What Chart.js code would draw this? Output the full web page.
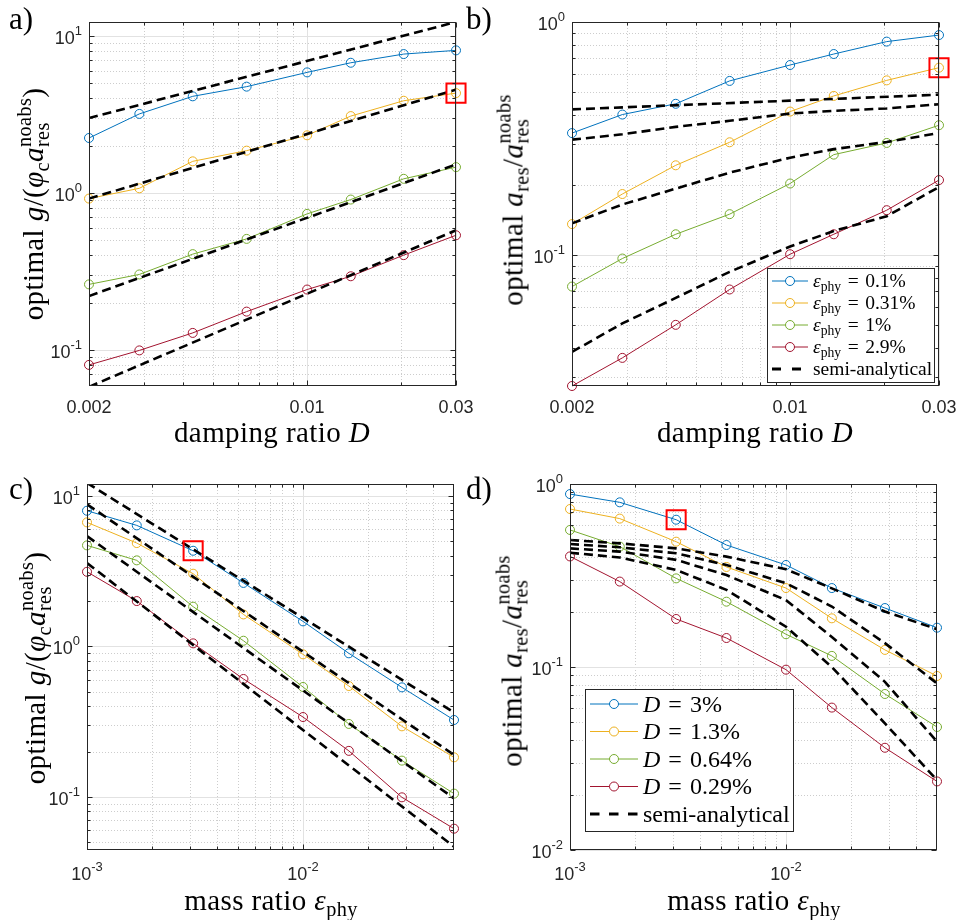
<!DOCTYPE html>
<html>
<head>
<meta charset="utf-8">
<script src="https://cdn.jsdelivr.net/npm/chart.js@4.4.0/dist/chart.umd.min.js"></script>
<style>
  body { margin: 0; background: #fff; }
  #fig { position: relative; width: 960px; height: 920px; overflow: hidden; }
  #fig canvas { position: absolute; }
  .tx { position: absolute; font-family: "Liberation Serif", serif; font-size: 29px; letter-spacing: 0.4px; line-height: 1; color: #000; white-space: nowrap; }
  .hor { transform: translate(-50%, -50%); }
  .rot { transform: translate(-50%, -50%) rotate(-90deg); }
  .tag { font-size: 31px; letter-spacing: 0; }
  .sub { font-size: 70%; position: relative; top: 0.32em; }
  .stk { display: inline-block; position: relative; font-size: 70%; }
  .stk .sp { position: relative; top: -0.6em; }
  .stk .sb { position: absolute; left: 0; top: 0.32em; }
  i { font-style: italic; }
</style>
</head>
<body>
<div id="fig">
  <canvas id="chartA" width="480" height="460" style="left:0;top:0"></canvas>
  <canvas id="chartB" width="480" height="460" style="left:480px;top:0"></canvas>
  <canvas id="chartC" width="480" height="460" style="left:0;top:460px"></canvas>
  <canvas id="chartD" width="480" height="460" style="left:480px;top:460px"></canvas>

  <div class="tx tag" style="left:9px;top:3px">a)</div>
  <div class="tx tag" style="left:466px;top:3px">b)</div>
  <div class="tx tag" style="left:9px;top:473px">c)</div>
  <div class="tx tag" style="left:466px;top:473px">d)</div>

  <div class="tx rot" style="left:33px;top:204px">optimal <i>g</i>/(<i>φ</i><span class="sub">c</span><i>a</i><span class="stk"><span class="sp">noabs</span><span class="sb">res</span></span>)</div>
  <div class="tx rot" style="left:513px;top:200px">optimal <i>a</i><span class="sub">res</span>/<i>a</i><span class="stk"><span class="sp">noabs</span><span class="sb">res</span></span></div>
  <div class="tx rot" style="left:35px;top:668px">optimal <i>g</i>/(<i>φ</i><span class="sub">c</span><i>a</i><span class="stk"><span class="sp">noabs</span><span class="sb">res</span></span>)</div>
  <div class="tx rot" style="left:512px;top:661px">optimal <i>a</i><span class="sub">res</span>/<i>a</i><span class="stk"><span class="sp">noabs</span><span class="sb">res</span></span></div>

  <div class="tx hor" style="left:272px;top:432px">damping ratio <i>D</i></div>
  <div class="tx hor" style="left:755px;top:432px">damping ratio <i>D</i></div>
  <div class="tx hor" style="left:271px;top:900px">mass ratio <i>ε</i><span class="sub">phy</span></div>
  <div class="tx hor" style="left:754px;top:900px">mass ratio <i>ε</i><span class="sub">phy</span></div>
</div>

<script>
// sample positions
const dampingRatio = [0.002, 0.0029, 0.0043, 0.0064, 0.01, 0.0138, 0.0204, 0.03];
const massRatio = [0.001, 0.0017, 0.0031, 0.0053, 0.01, 0.0163, 0.0287, 0.05];
const dampEnds = [0.002, 0.03];
const dampThree = [0.002, 0.01, 0.03];
const massEnds = [0.001, 0.05];

const epsLabels = ['0.1%', '0.31%', '1%', '2.9%'];
const dampLabels = ['3%', '1.3%', '0.64%', '0.29%'];

// a) optimal gain over damping ratio, one curve per mass ratio
const gainD_e01 = [2.24, 3.19, 4.13, 4.76, 5.87, 6.76, 7.68, 8.11];
const gainD_e031 = [0.92, 1.07, 1.59, 1.86, 2.33, 3.09, 3.87, 4.33];
const gainD_e1 = [0.261, 0.302, 0.407, 0.509, 0.735, 0.907, 1.23, 1.46];
const gainD_e29 = [0.080, 0.099, 0.128, 0.175, 0.242, 0.294, 0.401, 0.537];
const semiGainD_e01 = [3.0, 12.3];
const semiGainD_e031 = [0.92, 4.55];
const semiGainD_e1 = [0.22, 1.52];
const semiGainD_e29 = [0.058, 0.578];

// b) optimal amplitude ratio over damping ratio
const ampD_e01 = [0.334, 0.401, 0.446, 0.559, 0.654, 0.729, 0.824, 0.879];
const ampD_e031 = [0.136, 0.183, 0.243, 0.305, 0.413, 0.482, 0.562, 0.637];
const ampD_e1 = [0.0734, 0.0968, 0.123, 0.150, 0.203, 0.270, 0.303, 0.361];
const ampD_e29 = [0.0275, 0.0363, 0.0503, 0.0713, 0.101, 0.123, 0.156, 0.210];
const semiAmpD_e01 = [0.422, 0.46, 0.488];
const semiAmpD_e031 = [0.313, 0.330, 0.355, 0.377, 0.405, 0.416, 0.426, 0.444];
const semiAmpD_e1 = [0.137, 0.165, 0.193, 0.226, 0.262, 0.285, 0.306, 0.334];
const semiAmpD_e29 = [0.0385, 0.051, 0.0656, 0.0849, 0.109, 0.127, 0.147, 0.196];

// c) optimal gain over mass ratio, one curve per damping ratio
const gainE_D3 = [7.97, 6.37, 4.32, 2.64, 1.466, 0.899, 0.534, 0.324];
const gainE_D13 = [6.67, 4.86, 3.04, 1.63, 0.885, 0.545, 0.294, 0.183];
const gainE_D064 = [4.69, 3.73, 1.835, 1.09, 0.537, 0.305, 0.174, 0.105];
const gainE_D029 = [3.13, 2.0, 1.047, 0.607, 0.339, 0.202, 0.0992, 0.0614];
const semiGainE_D3 = [12.2, 0.364];
const semiGainE_D13 = [8.8, 0.19];
const semiGainE_D064 = [5.4, 0.0977];
const semiGainE_D029 = [3.58, 0.0466];

// d) optimal amplitude ratio over mass ratio
const ampE_D3 = [0.881, 0.794, 0.638, 0.464, 0.361, 0.270, 0.210, 0.164];
const ampE_D13 = [0.730, 0.647, 0.484, 0.352, 0.270, 0.1845, 0.124, 0.0893];
const ampE_D064 = [0.561, 0.455, 0.305, 0.2275, 0.151, 0.115, 0.0712, 0.047];
const ampE_D029 = [0.402, 0.293, 0.183, 0.144, 0.0967, 0.060, 0.0362, 0.0237];
const semiAmpE_D3 = [0.494, 0.474, 0.445, 0.401, 0.342, 0.269, 0.201, 0.161];
const semiAmpE_D13 = [0.470, 0.451, 0.418, 0.361, 0.287, 0.214, 0.135, 0.0814];
const semiAmpE_D064 = [0.445, 0.427, 0.385, 0.318, 0.232, 0.146, 0.083, 0.0391];
const semiAmpE_D029 = [0.421, 0.397, 0.339, 0.264, 0.166, 0.100, 0.0492, 0.0241];

// ticks
const dampTicks = [0.002, 0.01, 0.03];
const dampTickLabels = ['0.002', '0.01', '0.03'];
const massTicks = [0.001, 0.01];
const massTickLabels = ['10^-3', '10^-2'];
const gainTicks = [0.1, 1, 10];
const gainTickLabels = ['10^-1', '10^0', '10^1'];
const ampTicksB = [0.1, 1];
const ampTickLabelsB = ['10^-1', '10^0'];
const ampTicksD = [0.01, 0.1, 1];
const ampTickLabelsD = ['10^-2', '10^-1', '10^0'];

const colors = ['#0072BD', '#EDB120', '#77AC30', '#A2142F'];
const AXIS = '#262626';
const TICK_FONT = 18;

const pts = (xs, ys) => ys.map((y, i) => ({ x: xs[i], y }));

function measured(xs, ys, color, label) {
  return {
    label, data: pts(xs, ys), borderColor: color, borderWidth: 1,
    pointRadius: 4.5, pointBorderColor: color, pointBorderWidth: 1,
    pointBackgroundColor: 'rgba(255,255,255,0)', tension: 0, clip: false
  };
}

function semiAnalytical(xs, ys) {
  return {
    label: 'semi-analytical', data: pts(xs, ys), borderColor: '#000', borderWidth: 2.6,
    borderDash: [9, 5], pointRadius: 0, tension: 0
  };
}

function highlight(x, y) {
  return {
    label: 'selected', data: [{ x, y }], showLine: false, pointStyle: 'rect', pointRadius: 13.5,
    pointBorderColor: '#ff0000', pointBorderWidth: 2, pointBackgroundColor: 'rgba(0,0,0,0)', clip: false
  };
}

// minor log positions (2..9 per decade) that are not labelled ticks
function minorValues(scale, ticks) {
  const out = [];
  const lo = Math.floor(Math.log10(scale.min)), hi = Math.ceil(Math.log10(scale.max));
  for (let e = lo; e <= hi; e++) {
    for (let k = 1; k <= 9; k++) {
      const v = k * Math.pow(10, e);
      if (v < scale.min * 1.0001 || v > scale.max * 0.9999) continue;
      if (ticks.some(t => Math.abs(t - v) / v < 1e-6)) continue;
      out.push(v);
    }
  }
  return out;
}

const sharp = p => Math.round(p) + 0.5;

function seg(ctx, x0, y0, x1, y1) {
  ctx.beginPath(); ctx.moveTo(x0, y0); ctx.lineTo(x1, y1); ctx.stroke();
}

// tick label with optional exponent, e.g. '10^-1'
function tickLabel(ctx, label, x, y, align) {
  const [base, exp] = label.split('^');
  const small = TICK_FONT * 0.72;
  ctx.font = `${TICK_FONT}px "Liberation Sans", Arial, sans-serif`;
  const wb = ctx.measureText(base).width;
  let we = 0;
  if (exp) { ctx.font = `${small}px "Liberation Sans", Arial, sans-serif`; we = ctx.measureText(exp).width; }
  const x0 = align === 'right' ? x - wb - we : x - (wb + we) / 2;
  ctx.font = `${TICK_FONT}px "Liberation Sans", Arial, sans-serif`;
  ctx.fillText(base, x0, y);
  if (exp) {
    ctx.font = `${small}px "Liberation Sans", Arial, sans-serif`;
    ctx.fillText(exp, x0 + wb, y - 9);
  }
}

function richText(ctx, parts, x, y, size) {
  parts.forEach(([t, k]) => {
    const s = k === 'sub' ? size * 0.7 : size;
    ctx.font = `${k === 'i' ? 'italic ' : ''}${s}px "Liberation Serif", serif`;
    ctx.fillText(t, x, k === 'sub' ? y + size * 0.2 : y);
    x += ctx.measureText(t).width;
  });
}

// MATLAB-like axes: dotted minor grid, box with inner ticks, labels and legend
function frame(cfg) {
  return {
    id: 'frame',
    beforeDatasetsDraw(chart) {
      const { ctx, chartArea: a, scales: { x, y } } = chart;
      ctx.save();
      ctx.lineWidth = 1;
      ctx.strokeStyle = '#cdcdcd';
      ctx.setLineDash([1, 2]);
      minorValues(x, cfg.xTicks).forEach(v => { const p = sharp(x.getPixelForValue(v)); seg(ctx, p, a.top, p, a.bottom); });
      minorValues(y, cfg.yTicks).forEach(v => { const p = sharp(y.getPixelForValue(v)); seg(ctx, a.left, p, a.right, p); });
      ctx.setLineDash([]);
      ctx.strokeStyle = '#e2e2e2';
      cfg.xTicks.forEach(v => { const p = sharp(x.getPixelForValue(v)); seg(ctx, p, a.top, p, a.bottom); });
      cfg.yTicks.forEach(v => { const p = sharp(y.getPixelForValue(v)); seg(ctx, a.left, p, a.right, p); });
      ctx.restore();
    },
    afterDatasetsDraw(chart) {
      const { ctx, chartArea: a, scales: { x, y } } = chart;
      ctx.save();
      ctx.strokeStyle = AXIS;
      ctx.lineWidth = 1;
      const L = sharp(a.left), R = sharp(a.right - 1), T = sharp(a.top), B = sharp(a.bottom - 1);
      ctx.strokeRect(L, T, R - L, B - T);
      const xt = (v, len) => { const p = sharp(x.getPixelForValue(v)); seg(ctx, p, B, p, B - len); seg(ctx, p, T, p, T + len); };
      const yt = (v, len) => { const p = sharp(y.getPixelForValue(v)); seg(ctx, L, p, L + len, p); seg(ctx, R, p, R - len, p); };
      minorValues(x, cfg.xTicks).forEach(v => xt(v, 3));
      minorValues(y, cfg.yTicks).forEach(v => yt(v, 3));
      cfg.xTicks.forEach(v => xt(v, 5));
      cfg.yTicks.forEach(v => yt(v, 5));

      ctx.fillStyle = AXIS;
      ctx.textBaseline = 'alphabetic';
      cfg.xTickLabels.forEach((t, i) => {
        tickLabel(ctx, t, x.getPixelForValue(cfg.xTicks[i]), a.bottom + (t.includes('^') ? 30 : 27), 'center');
      });
      cfg.yTickLabels.forEach((t, i) => {
        tickLabel(ctx, t, a.left - 7, y.getPixelForValue(cfg.yTicks[i]) + 8, 'right');
      });

      const lg = cfg.legend;
      if (!lg) { ctx.restore(); return; }
      ctx.fillStyle = '#fff';
      ctx.fillRect(lg.x, lg.y, lg.w, lg.h);
      ctx.strokeStyle = AXIS;
      ctx.strokeRect(lg.x + 0.5, lg.y + 0.5, lg.w, lg.h);
      lg.items.forEach((it, i) => {
        const cy = lg.y + lg.row0 + i * lg.dy;
        const x0 = lg.x + lg.lineX0, x1 = lg.x + lg.lineX1;
        if (it.dashed) {
          ctx.strokeStyle = '#000'; ctx.lineWidth = 3; ctx.setLineDash(lg.dash);
          seg(ctx, x0, cy, x1, cy); ctx.setLineDash([]);
        } else {
          const c = chart.data.datasets[it.ds].borderColor;
          ctx.strokeStyle = c; ctx.lineWidth = 1;
          seg(ctx, x0, cy, x1, cy);
          ctx.beginPath(); ctx.arc((x0 + x1) / 2, cy, 4.5, 0, Math.PI * 2);
          ctx.fillStyle = '#fff'; ctx.fill(); ctx.stroke();
        }
        ctx.fillStyle = '#000';
        richText(ctx, it.parts, lg.x + lg.textX, cy + lg.size * 0.32, lg.size);
      });
      ctx.restore();
    }
  };
}

function makeChart(id, box, xr, yr, datasets, cfg) {
  return new Chart(document.getElementById(id), {
    type: 'line',
    data: { datasets },
    options: {
      responsive: false, animation: false, events: [],
      layout: { padding: { left: 0, top: box.top, right: 480 - box.right, bottom: 0 } },
      plugins: { legend: { display: false }, tooltip: { enabled: false } },
      scales: {
        x: {
          type: 'logarithmic', min: xr[0], max: xr[1],
          ticks: { display: false }, grid: { display: false }, border: { display: false },
          afterFit: s => { s.height = 460 - box.bottom; }
        },
        y: {
          type: 'logarithmic', min: yr[0], max: yr[1],
          ticks: { display: false }, grid: { display: false }, border: { display: false },
          afterFit: s => { s.width = box.left; }
        }
      }
    },
    plugins: [frame(cfg)]
  });
}

const EQ = '\u2004=\u2004';
const epsParts = epsLabels.map(l => [['ε', 'i'], ['phy', 'sub'], [EQ + l, 'r']]);
const dampParts = dampLabels.map(l => [['D', 'i'], [EQ + l, 'r']]);

makeChart('chartA', { left: 89, right: 456, top: 22, bottom: 386 }, [0.002, 0.03], [0.0587, 12.3], [
  highlight(dampingRatio[7], gainD_e031[7]),
  semiAnalytical(dampEnds, semiGainD_e01),
  semiAnalytical(dampEnds, semiGainD_e031),
  semiAnalytical(dampEnds, semiGainD_e1),
  semiAnalytical(dampEnds, semiGainD_e29),
  measured(dampingRatio, gainD_e01, colors[0]),
  measured(dampingRatio, gainD_e031, colors[1]),
  measured(dampingRatio, gainD_e1, colors[2]),
  measured(dampingRatio, gainD_e29, colors[3])
], {
  xTicks: dampTicks, xTickLabels: dampTickLabels, yTicks: gainTicks, yTickLabels: gainTickLabels, legend: null
});

const legendB = {
  x: 287, y: 268, w: 167, h: 114, row0: 13, dy: 22, lineX0: 5, lineX1: 41, textX: 46, size: 19.5, dash: [9, 11],
  items: [
    { ds: 5, parts: epsParts[0] }, { ds: 6, parts: epsParts[1] }, { ds: 7, parts: epsParts[2] }, { ds: 8, parts: epsParts[3] },
    { dashed: true, parts: [['semi-analytical', 'r']] }
  ]
};
makeChart('chartB', { left: 92, right: 459, top: 22, bottom: 386 }, [0.002, 0.03], [0.0275, 1.0], [
  highlight(dampingRatio[7], ampD_e031[7]),
  semiAnalytical(dampThree, semiAmpD_e01),
  semiAnalytical(dampingRatio, semiAmpD_e031),
  semiAnalytical(dampingRatio, semiAmpD_e1),
  semiAnalytical(dampingRatio, semiAmpD_e29),
  measured(dampingRatio, ampD_e01, colors[0]),
  measured(dampingRatio, ampD_e031, colors[1]),
  measured(dampingRatio, ampD_e1, colors[2]),
  measured(dampingRatio, ampD_e29, colors[3])
], {
  xTicks: dampTicks, xTickLabels: dampTickLabels, yTicks: ampTicksB, yTickLabels: ampTickLabelsB, legend: legendB
});

makeChart('chartC', { left: 87, right: 454, top: 24, bottom: 390 }, [0.001, 0.05], [0.0443, 12.0], [
  highlight(massRatio[2], gainE_D3[2]),
  semiAnalytical(massEnds, semiGainE_D3),
  semiAnalytical(massEnds, semiGainE_D13),
  semiAnalytical(massEnds, semiGainE_D064),
  semiAnalytical(massEnds, semiGainE_D029),
  measured(massRatio, gainE_D3, colors[0]),
  measured(massRatio, gainE_D13, colors[1]),
  measured(massRatio, gainE_D064, colors[2]),
  measured(massRatio, gainE_D029, colors[3])
], {
  xTicks: massTicks, xTickLabels: massTickLabels, yTicks: gainTicks, yTickLabels: gainTickLabels, legend: null
});

const legendD = {
  x: 105, y: 229, w: 208, h: 142, row0: 15, dy: 27.5, lineX0: 5, lineX1: 53, textX: 58, size: 24, dash: [9.5, 9.5],
  items: [
    { ds: 5, parts: dampParts[0] }, { ds: 6, parts: dampParts[1] }, { ds: 7, parts: dampParts[2] }, { ds: 8, parts: dampParts[3] },
    { dashed: true, parts: [['semi-analytical', 'r']] }
  ]
};
makeChart('chartD', { left: 90, right: 457, top: 24, bottom: 390 }, [0.001, 0.05], [0.01, 1.0], [
  highlight(massRatio[2], ampE_D3[2]),
  semiAnalytical(massRatio, semiAmpE_D3),
  semiAnalytical(massRatio, semiAmpE_D13),
  semiAnalytical(massRatio, semiAmpE_D064),
  semiAnalytical(massRatio, semiAmpE_D029),
  measured(massRatio, ampE_D3, colors[0]),
  measured(massRatio, ampE_D13, colors[1]),
  measured(massRatio, ampE_D064, colors[2]),
  measured(massRatio, ampE_D029, colors[3])
], {
  xTicks: massTicks, xTickLabels: massTickLabels, yTicks: ampTicksD, yTickLabels: ampTickLabelsD, legend: legendD
});
</script>
</body>
</html>
